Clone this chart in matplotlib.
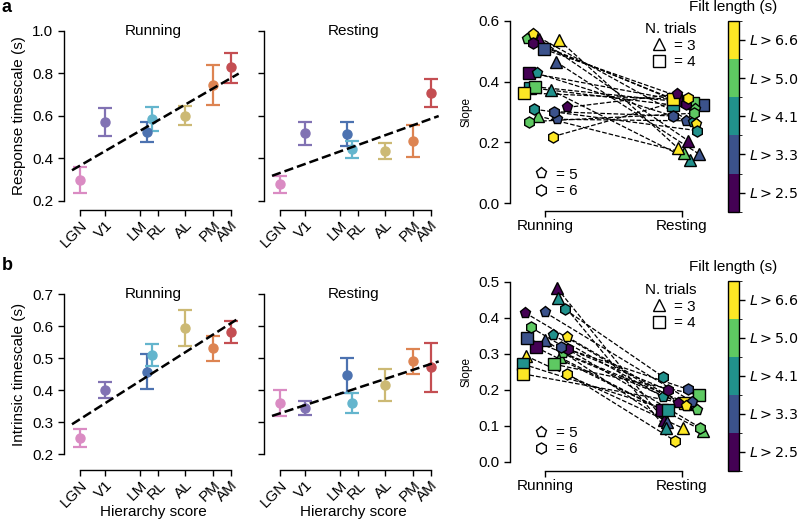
import numpy as np
import matplotlib
matplotlib.use("Agg")
import matplotlib.pyplot as plt
from matplotlib.colors import ListedColormap, BoundaryNorm
from matplotlib.lines import Line2D
import matplotlib.colorbar as mcolorbar

plt.rcParams['font.family'] = ['Liberation Sans', 'DejaVu Sans']
plt.rcParams['font.size'] = 11
plt.rcParams['axes.linewidth'] = 1.0
plt.rcParams['xtick.major.width'] = 1.0
plt.rcParams['ytick.major.width'] = 1.0
plt.rcParams['xtick.major.size'] = 4
plt.rcParams['ytick.major.size'] = 4
plt.rcParams['xtick.major.pad'] = 2

# ---------------- data ----------------
areas = ['LGN', 'V1', 'LM', 'RL', 'AL', 'PM', 'AM']
hier_score = [-0.515, -0.357, -0.093, -0.059, 0.152, 0.327, 0.441]
hier_tick_pos = [-0.515, -0.357, -0.133, -0.018, 0.152, 0.327, 0.441]
area_colors = ['#DA8BC3', '#8172B3', '#4C72B0', '#64B5CD', '#CCB974', '#DD8452', '#C44E52']

resp_run_mean = [0.299, 0.573, 0.526, 0.586, 0.602, 0.746, 0.829]
resp_run_lo = [0.239, 0.507, 0.479, 0.531, 0.558, 0.650, 0.757]
resp_run_hi = [0.362, 0.639, 0.573, 0.644, 0.647, 0.840, 0.898]
resp_rest_mean = [0.278, 0.518, 0.515, 0.445, 0.435, 0.484, 0.710]
resp_rest_lo = [0.239, 0.463, 0.459, 0.400, 0.396, 0.405, 0.644]
resp_rest_hi = [0.319, 0.573, 0.573, 0.484, 0.474, 0.558, 0.773]
intr_run_mean = [0.252, 0.401, 0.458, 0.510, 0.596, 0.531, 0.583]
intr_run_lo = [0.222, 0.375, 0.403, 0.476, 0.539, 0.493, 0.549]
intr_run_hi = [0.279, 0.427, 0.513, 0.544, 0.651, 0.570, 0.618]
intr_rest_mean = [0.361, 0.346, 0.448, 0.359, 0.417, 0.492, 0.474]
intr_rest_lo = [0.320, 0.323, 0.393, 0.328, 0.367, 0.450, 0.396]
intr_rest_hi = [0.401, 0.368, 0.502, 0.393, 0.466, 0.528, 0.547]

fit_x_range = [-0.566, 0.492]
resp_run_fit = (0.430, 0.588)    # slope, intercept
resp_rest_fit = (0.266, 0.469)
intr_run_fit = (0.313, 0.471)
intr_rest_fit = (0.161, 0.411)

conditions = ['Running', 'Resting']
n_trials = [3, 4, 5, 6]
filt_labels = ['2.5', '3.3', '4.1', '5.0', '6.6']
filt_colors = ['#440154', '#3b528b', '#21918c', '#5ec962', '#fde725']

# rows: n_trials 3,4,5,6 ; cols: filt length levels 2.5 .. 6.6
slope_a_run = [[0.540, 0.465, 0.372, 0.287, 0.537],
               [0.429, 0.506, 0.380, 0.383, 0.363],
               [0.315, 0.276, 0.427, 0.540, 0.556],
               [0.528, 0.301, 0.309, 0.268, 0.219]]
slope_a_rest = [[0.206, 0.162, 0.142, 0.166, 0.181],
                [0.340, 0.323, 0.323, 0.329, 0.342],
                [0.359, 0.271, 0.266, 0.310, 0.260],
                [0.326, 0.287, 0.239, 0.296, 0.345]]
jit_a_run = [[-0.044, 0.080, 0.044, -0.051, 0.102],
             [-0.117, -0.007, -0.109, -0.073, -0.153],
             [0.161, 0.088, -0.058, -0.131, -0.088],
             [-0.088, 0.066, -0.080, -0.117, 0.058]]
jit_a_rest = [[0.044, 0.124, 0.058, 0.015, -0.029],
              [-0.044, 0.153, -0.066, 0.080, -0.066],
              [-0.036, 0.029, 0.080, 0.095, 0.102],
              [0.029, -0.066, 0.109, 0.088, 0.044]]

slope_b_run = [[0.482, 0.338, 0.454, 0.290, 0.294],
               [0.318, 0.343, 0.271, 0.271, 0.244],
               [0.414, 0.415, 0.352, 0.301, 0.347],
               [0.313, 0.319, 0.423, 0.373, 0.245]]
slope_b_rest = [[0.116, 0.110, 0.093, 0.086, 0.093],
                [0.144, 0.160, 0.144, 0.185, 0.162],
                [0.162, 0.167, 0.180, 0.144, 0.155],
                [0.199, 0.201, 0.236, 0.095, 0.058]]
jit_b_run = [[0.088, 0.000, 0.095, 0.109, -0.139],
             [-0.066, -0.131, -0.161, 0.066, -0.161],
             [-0.146, 0.000, 0.058, 0.131, 0.161],
             [0.168, 0.117, 0.146, -0.102, 0.161]]
jit_b_rest = [[-0.131, -0.109, -0.117, 0.153, 0.007],
              [-0.146, 0.058, -0.102, 0.124, 0.022],
              [-0.029, 0.073, -0.139, 0.109, 0.029],
              [-0.102, 0.044, -0.139, 0.131, -0.051]]

markers = {3: '^', 4: 's', 5: 'p', 6: 'h'}

# ---------------- figure ----------------
W, H = 800, 523
fig = plt.figure(figsize=(W / 100, H / 100), dpi=100)


def add_ax(left, top, right, bottom):
    return fig.add_axes([left / W, 1 - bottom / H, (right - left) / W, (bottom - top) / H])


def hier_panel(ax, mean, lo, hi, fit, ylim, yticks, title, ylabel, xlabel, off):
    for s in ['top', 'right']:
        ax.spines[s].set_visible(False)
    ax.spines['bottom'].set_position(('outward', off))
    for i in range(len(areas)):
        ax.errorbar(hier_score[i], mean[i],
                    yerr=[[mean[i] - lo[i]], [hi[i] - mean[i]]],
                    fmt='o', color=area_colors[i], ms=6.5, elinewidth=1.6,
                    capsize=5, capthick=1.6, zorder=3)
    xs = np.array(fit_x_range)
    ax.plot(xs, fit[0] * xs + fit[1], '--', color='black', lw=1.8, zorder=4)
    ax.set_xlim(-0.62, 0.52)
    ax.set_ylim(*ylim)
    ax.set_yticks(yticks)
    ax.set_xticks(hier_tick_pos)
    ax.set_xticklabels(areas, rotation=45, ha='right', va='top', rotation_mode='anchor')
    ax.spines['bottom'].set_bounds(hier_tick_pos[0], hier_tick_pos[-1])
    ax.spines['left'].set_bounds(yticks[0], yticks[-1])
    ax.text(0.5, 1.0, title, transform=ax.transAxes, ha='center', va='center', fontsize=11)
    if ylabel:
        ax.set_ylabel(ylabel, fontsize=11, labelpad=4)
    else:
        ax.set_yticklabels([])
    if xlabel:
        ax.set_xlabel(xlabel, fontsize=11, labelpad=-3.5)


ax = add_ax(63.5, 31, 243.1, 201)
hier_panel(ax, resp_run_mean, resp_run_lo, resp_run_hi, resp_run_fit, (0.2, 1.0),
           [0.2, 0.4, 0.6, 0.8, 1.0], 'Running', 'Response timescale (s)', None, 6.5)
ax = add_ax(263.5, 31, 443.1, 201)
hier_panel(ax, resp_rest_mean, resp_rest_lo, resp_rest_hi, resp_rest_fit, (0.2, 1.0),
           [0.2, 0.4, 0.6, 0.8, 1.0], 'Resting', None, None, 6.5)
ax = add_ax(63.5, 294.3, 243.1, 454.3)
hier_panel(ax, intr_run_mean, intr_run_lo, intr_run_hi, intr_run_fit, (0.2, 0.7),
           [0.2, 0.3, 0.4, 0.5, 0.6, 0.7], 'Running', 'Intrinsic timescale (s)', 'Hierarchy score', 11.3)
ax = add_ax(263.5, 294.3, 443.1, 454.3)
hier_panel(ax, intr_rest_mean, intr_rest_lo, intr_rest_hi, intr_rest_fit, (0.2, 0.7),
           [0.2, 0.3, 0.4, 0.5, 0.6, 0.7], 'Resting', None, 'Hierarchy score', 11.3)


def slope_panel(ax, run, rest, jrun, jrest, ylim, yticks, off):
    for s in ['top', 'right']:
        ax.spines[s].set_visible(False)
    ax.spines['bottom'].set_position(('outward', off))
    for r, nt in enumerate(n_trials):
        for c in range(len(filt_colors)):
            x0 = 0 + jrun[r][c]
            x1 = 1 + jrest[r][c]
            ax.plot([x0, x1], [run[r][c], rest[r][c]], '--', color='black', lw=0.9, zorder=2)
    for r, nt in enumerate(n_trials):
        for c in range(len(filt_colors)):
            x0 = 0 + jrun[r][c]
            x1 = 1 + jrest[r][c]
            ax.plot([x0, x1], [run[r][c], rest[r][c]], linestyle='none', marker=markers[nt],
                    ms=8, mfc=filt_colors[c], mec='black', mew=1.0, zorder=3, clip_on=False)
    ax.set_xlim(-0.255, 1.241)
    ax.set_ylim(*ylim)
    ax.set_yticks(yticks)
    ax.set_xticks([0, 1])
    ax.set_xticklabels(conditions)
    ax.spines['bottom'].set_bounds(0, 1)
    ax.spines['left'].set_bounds(yticks[0], yticks[-1])
    ax.set_ylabel('Slope', fontsize=8.5, labelpad=4)
    h1 = [Line2D([], [], ls='none', marker=markers[n], ms=8, mfc='white', mec='black', mew=1.0)
          for n in (3, 4)]
    leg1 = ax.legend(h1, ['= 3', '= 4'], title='N. trials', loc='upper right',
                     bbox_to_anchor=(0.96, 1.05), frameon=False, handlelength=1.0,
                     handletextpad=0.5, borderpad=0.2, labelspacing=0.15, fontsize=11,
                     title_fontsize=11, alignment='right')
    ax.add_artist(leg1)
    h2 = [Line2D([], [], ls='none', marker=markers[n], ms=8, mfc='white', mec='black', mew=1.0)
          for n in (5, 6)]
    ax.legend(h2, ['= 5', '= 6'], loc='lower left', bbox_to_anchor=(0.06, -0.03), frameon=False,
              handlelength=1.0, handletextpad=0.5, borderpad=0.2, labelspacing=0.15, fontsize=11)


ax = add_ax(510, 20.7, 715, 203.3)
slope_panel(ax, slope_a_run, slope_a_rest, jit_a_run, jit_a_rest, (0, 0.6),
            [0.0, 0.2, 0.4, 0.6], 5.3)
ax = add_ax(510, 281.7, 715, 461.7)
slope_panel(ax, slope_b_run, slope_b_rest, jit_b_run, jit_b_rest, (0, 0.5),
            [0.0, 0.1, 0.2, 0.3, 0.4, 0.5], 6.5)

cmap = ListedColormap(filt_colors)
norm = BoundaryNorm(np.arange(len(filt_colors) + 1), cmap.N)
for top, bot in [(20.7, 211.7), (280.7, 470.7)]:
    cax = add_ax(728, top, 739, bot)
    cb = mcolorbar.ColorbarBase(cax, cmap=cmap, norm=norm, orientation='vertical')
    cb.set_ticks(np.arange(len(filt_colors)) + 0.5)
    cb.set_ticklabels([r'$L > %s$' % f for f in filt_labels])
    cax.tick_params(labelsize=10.3, length=4, width=1.0, pad=3)
    cb.outline.set_linewidth(1.0)
    cax.text(0.5, 1.0 + 14 / (bot - top), 'Filt length (s)', transform=cax.transAxes,
             ha='center', va='center', fontsize=11)

fig.text(2 / W, 1 - 8 / H, 'a', fontsize=13, fontweight='bold', ha='left', va='center')
fig.text(2 / W, 1 - 265 / H, 'b', fontsize=13, fontweight='bold', ha='left', va='center')

fig.savefig('out.png', dpi=100)
